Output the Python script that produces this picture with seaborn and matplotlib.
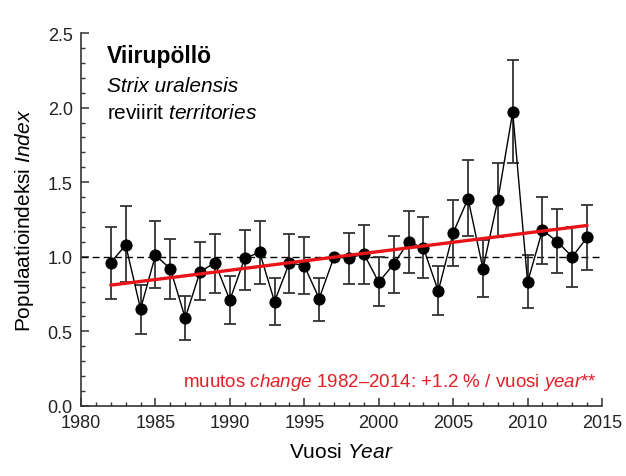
import numpy
import pandas
import seaborn as sea
from matplotlib import pyplot
from matplotlib.ticker import MultipleLocator

# population index of the Ural owl
years = list(range(1982, 2015))
index = [0.96, 1.08, 0.65, 1.01, 0.92, 0.59, 0.90, 0.96, 0.71, 0.99, 1.03,
         0.70, 0.96, 0.94, 0.72, 1.00, 0.99, 1.02, 0.83, 0.95, 1.10, 1.06,
         0.77, 1.16, 1.39, 0.92, 1.38, 1.97, 0.83, 1.18, 1.10, 1.00, 1.13]
upper = [1.20, 1.34, 0.81, 1.24, 1.12, 0.74, 1.10, 1.15, 0.87, 1.18, 1.24,
         0.86, 1.15, 1.13, 0.86, numpy.nan, 1.16, 1.21, 1.00, 1.14, 1.31, 1.27,
         0.94, 1.38, 1.65, 1.11, 1.63, 2.32, 1.01, 1.40, 1.32, 1.20, 1.35]
lower = [0.72, 0.83, 0.48, 0.79, 0.72, 0.44, 0.71, 0.76, 0.55, 0.78, 0.82,
         0.54, 0.76, 0.75, 0.57, numpy.nan, 0.82, 0.82, 0.67, 0.76, 0.89, 0.86,
         0.61, 0.94, 1.14, 0.73, 1.13, 1.63, 0.66, 0.95, 0.89, 0.80, 0.91]

# fitted trend, endpoints only
trend_years = [1982, 2014]
trend_values = [0.81, 1.21]

sea.set_theme(style="ticks")
pyplot.rcParams["font.family"] = ["Liberation Sans", "DejaVu Sans"]
pyplot.rcParams["mathtext.fontset"] = "custom"
pyplot.rcParams["mathtext.it"] = "Liberation Sans:italic"
pyplot.rcParams["mathtext.rm"] = "Liberation Sans"
pyplot.rcParams["text.color"] = "black"
pyplot.rcParams["axes.labelcolor"] = "black"

dataframe = pandas.DataFrame(
    {"year": years, "index": index, "upper": upper, "lower": lower}
)
trend = pandas.DataFrame({"year": trend_years, "index": trend_values})

figure = pyplot.figure(figsize=(6.26, 4.77), dpi=100)
axis = figure.add_axes([0.1294, 0.1468, 0.8323, 0.7819])

axis.axhline(1.0, color="black", lw=1.0, dashes=(5, 3), zorder=1)

# error bars (1997 is the base year, no bar)
yerr = numpy.array(
    [dataframe["index"] - dataframe["lower"], dataframe["upper"] - dataframe["index"]]
)
axis.errorbar(
    dataframe["year"], dataframe["index"], yerr=yerr, fmt="none",
    ecolor="#333333", elinewidth=1.3, capsize=4.5, capthick=1.3, zorder=2,
)

sea.lineplot(
    data=dataframe, x="year", y="index", ax=axis, color="black", lw=1.0,
    marker="o", markersize=8, markeredgecolor="black", zorder=3,
)
sea.lineplot(
    data=trend, x="year", y="index", ax=axis, color="#e8141a", lw=2.4,
    zorder=4,
)

axis.set_xlim(1980, 2015)
axis.set_ylim(0, 2.5)
axis.xaxis.set_major_locator(MultipleLocator(5))
axis.xaxis.set_minor_locator(MultipleLocator(1))
axis.yaxis.set_major_locator(MultipleLocator(0.5))
axis.yaxis.set_minor_locator(MultipleLocator(0.1))
axis.yaxis.set_major_formatter(pyplot.FormatStrFormatter("%.1f"))
axis.tick_params(which="major", direction="in", length=6, width=1.1,
                 labelsize=13, color="#333333", labelcolor="#222222", pad=6)
axis.tick_params(which="minor", direction="in", length=3, width=1.0,
                 color="#333333")
for side in ["top", "right"]:
    axis.spines[side].set_visible(False)
for side in ["left", "bottom"]:
    axis.spines[side].set_linewidth(1.2)
    axis.spines[side].set_color("#333333")

axis.set_xlabel("Vuosi $\\mathit{Year}$", fontsize=15, labelpad=8)
axis.set_ylabel("Populaatioindeksi $\\mathit{Index}$", fontsize=15, labelpad=8)

axis.text(0.05, 0.922, "Viirupöllö", transform=axis.transAxes,
          fontsize=16.5, fontweight="bold", va="baseline")
axis.text(0.05, 0.845, "Strix uralensis", transform=axis.transAxes,
          fontsize=15, style="italic", va="baseline")
axis.text(0.05, 0.772, "reviirit $\\mathit{territories}$",
          transform=axis.transAxes, fontsize=15, va="baseline")
axis.text(0.99, 0.053,
          "muutos $\\mathit{change}$ 1982–2014: +1.2 % / vuosi $\\mathit{year}$**",
          transform=axis.transAxes, fontsize=13.5, color="#e41e26",
          ha="right", va="baseline")

figure.savefig("out.png", dpi=100)
